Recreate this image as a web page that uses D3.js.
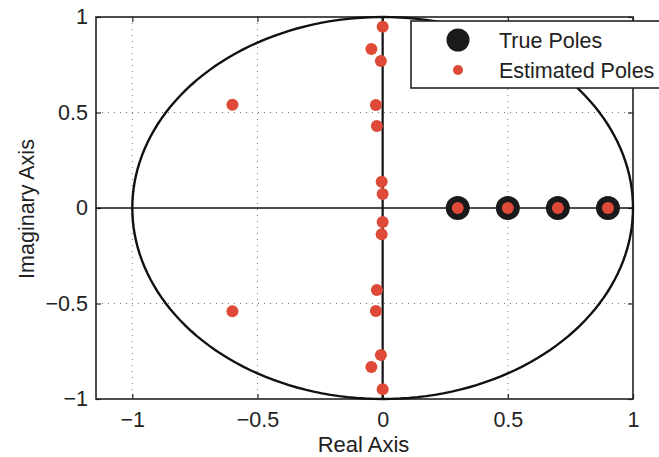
<!DOCTYPE html>
<html>
<head>
<meta charset="utf-8">
<script src="https://d3js.org/d3.v7.min.js"></script>
<style>
body { margin: 0; background: #fff; }
text { font-family: "Liberation Sans", Arial, sans-serif; fill: #222; }
.grid { stroke: #777; stroke-width: 1; stroke-dasharray: 1,5; }
</style>
</head>
<body>
<script>

// pole data
var trueRe = [0.3, 0.5, 0.7, 0.9];
var trueIm = [0, 0, 0, 0];
var estRe = [0, -0.045, -0.007, -0.027, -0.023, -0.004, 0, -0.6,
             0, -0.045, -0.007, -0.027, -0.023, -0.004, 0, -0.6,
             0.3, 0.5, 0.7, 0.9];
var estIm = [0.949, 0.832, 0.77, 0.539, 0.429, 0.138, 0.073, 0.54,
             -0.949, -0.832, -0.77, -0.539, -0.429, -0.138, -0.073, -0.54,
             0, 0, 0, 0];
var xTicks = [-1, -0.5, 0, 0.5, 1];
var yTicks = [-1, -0.5, 0, 0.5, 1];
var legendLabels = ["True Poles", "Estimated Poles"];

var width = 659, height = 457;
var pLeft = 96, pRight = 633, pTop = 17, pBottom = 399;

var svg = d3.select("body").append("svg")
  .attr("width", width)
  .attr("height", height);

var x = d3.scaleLinear().domain([-1.145, 1]).range([pLeft, pRight]);
var y = d3.scaleLinear().domain([-1, 1]).range([pBottom, pTop]);

// dotted grid
svg.append("g").selectAll("line").data([-1, -0.5, 0.5]).enter().append("line")
  .attr("class", "grid")
  .attr("x1", d => x(d)).attr("x2", d => x(d))
  .attr("y1", pTop).attr("y2", pBottom);
svg.append("g").selectAll("line").data([-0.5, 0.5]).enter().append("line")
  .attr("class", "grid")
  .attr("x1", pLeft).attr("x2", pRight)
  .attr("y1", d => y(d)).attr("y2", d => y(d));

// axes with inward ticks, on all four sides
function fmt(d) { return d3.format("")(d).replace("-", "\u2212"); }
svg.append("g").attr("transform", "translate(0," + pBottom + ")")
  .call(d3.axisBottom(x).tickValues(xTicks).tickSizeInner(-5).tickSizeOuter(0).tickPadding(13).tickFormat(fmt));
svg.append("g").attr("transform", "translate(" + pLeft + ",0)")
  .call(d3.axisLeft(y).tickValues(yTicks).tickSizeInner(-5).tickSizeOuter(0).tickPadding(8).tickFormat(fmt));
svg.append("g").attr("transform", "translate(0," + pTop + ")")
  .call(d3.axisTop(x).tickValues(xTicks).tickSizeInner(-5).tickSizeOuter(0).tickFormat(""));
svg.append("g").attr("transform", "translate(" + pRight + ",0)")
  .call(d3.axisRight(y).tickValues(yTicks).tickSizeInner(-5).tickSizeOuter(0).tickFormat(""));
svg.selectAll(".domain").remove();
svg.selectAll(".tick line").attr("stroke", "#222").attr("stroke-width", 1.2);
svg.selectAll(".tick text").style("font-size", "21.5px").attr("fill", "#222")
  .style("font-family", "'Liberation Sans', Arial, sans-serif");

svg.append("rect")
  .attr("x", pLeft).attr("y", pTop)
  .attr("width", pRight - pLeft).attr("height", pBottom - pTop)
  .attr("fill", "none").attr("stroke", "#222").attr("stroke-width", 1.6);

// real and imaginary axes
svg.append("line")
  .attr("x1", pLeft).attr("x2", pRight).attr("y1", y(0)).attr("y2", y(0))
  .attr("stroke", "#111").attr("stroke-width", 1.6);
svg.append("line")
  .attr("x1", x(0)).attr("x2", x(0)).attr("y1", y(1)).attr("y2", y(-1))
  .attr("stroke", "#111").attr("stroke-width", 2.2);

// unit circle
var circ = d3.range(0, 361, 2).map(a => [Math.cos(a * Math.PI / 180), Math.sin(a * Math.PI / 180)]);
svg.append("path")
  .datum(circ)
  .attr("d", d3.line().x(d => x(d[0])).y(d => y(d[1])))
  .attr("fill", "none").attr("stroke", "#111").attr("stroke-width", 2.4);

// poles
svg.append("g").selectAll("circle").data(trueRe).enter().append("circle")
  .attr("cx", d => x(d)).attr("cy", (d, i) => y(trueIm[i]))
  .attr("r", 12).attr("fill", "#1a1a1a");
svg.append("g").selectAll("circle").data(estRe).enter().append("circle")
  .attr("cx", d => x(d)).attr("cy", (d, i) => y(estIm[i]))
  .attr("r", 6).attr("fill", "#de4a37");

// legend
var lg = svg.append("g");
lg.append("rect")
  .attr("x", 411).attr("y", 21).attr("width", 270).attr("height", 67)
  .attr("fill", "#fff").attr("stroke", "#222").attr("stroke-width", 1.6);
lg.append("circle").attr("cx", 458).attr("cy", 40).attr("r", 11.5).attr("fill", "#1a1a1a");
lg.append("circle").attr("cx", 458).attr("cy", 70).attr("r", 5).attr("fill", "#de4a37");
lg.selectAll("text").data(legendLabels).enter().append("text")
  .attr("x", 499).attr("y", (d, i) => 48 + i * 30)
  .style("font-size", "21.5px")
  .text(d => d);

// axis titles
svg.append("text")
  .attr("x", (pLeft + pRight) / 2 - 1).attr("y", 452)
  .attr("text-anchor", "middle").style("font-size", "22px")
  .text("Real Axis");
svg.append("text")
  .attr("transform", "translate(34,209) rotate(-90)")
  .attr("text-anchor", "middle").style("font-size", "21.5px")
  .text("Imaginary Axis");

</script>
</body>
</html>
